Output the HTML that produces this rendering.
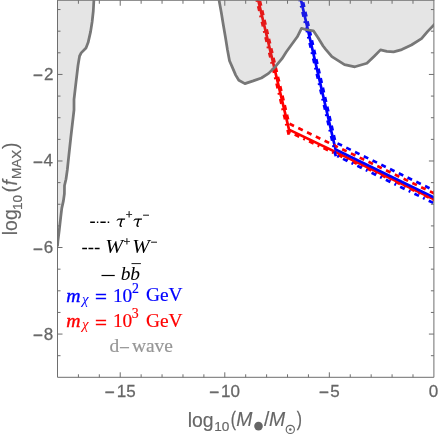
<!DOCTYPE html>
<html><head><meta charset="utf-8"><title>plot</title>
<style>
html,body{margin:0;padding:0;background:#fff;}
body{width:440px;height:437px;overflow:hidden;font-family:"Liberation Sans",sans-serif;}
svg{display:block;will-change:transform;}
text.s{font-family:"Liberation Sans",sans-serif;}
text.f{font-family:"Liberation Serif",serif;}
text.i{font-style:italic;}
</style></head><body>
<svg width="440" height="437" viewBox="0 0 440 437">
<defs><clipPath id="clip"><rect x="57.50" y="0.25" width="376.40" height="377.05"/></clipPath></defs>
<rect width="440" height="437" fill="#fff"/>
<g clip-path="url(#clip)">
<path d="M256.30,-8.00 L289.00,129.60 L437.90,201.22" fill="none" stroke="#ff0000" stroke-width="2.70" stroke-linejoin="miter"/>
<path d="M299.15,-8.00 L335.50,149.40 L437.90,199.35" fill="none" stroke="#0000ff" stroke-width="2.70" stroke-linejoin="miter"/>
<path d="M335.48,142.39 L437.90,192.35" fill="none" stroke="#0000ff" stroke-width="2.70" stroke-dasharray="5.00 4.74" stroke-dashoffset="-2.25"/>
<path d="M335.48,142.39 L300.75,-8.00" fill="none" stroke="#0000ff" stroke-width="2.70" stroke-dasharray="5.00 4.74" stroke-dashoffset="-2.49"/>
<path d="M289.08,123.64 L437.90,195.22" fill="none" stroke="#ff0000" stroke-width="2.70" stroke-dasharray="5.00 4.74" stroke-dashoffset="-0.46"/>
<path d="M289.08,123.64 L257.80,-8.00" fill="none" stroke="#ff0000" stroke-width="2.70" stroke-dasharray="5.00 4.74" stroke-dashoffset="-4.28"/>
<path d="M287.93,131.40 L437.90,201.78" fill="none" stroke="#ff0000" stroke-width="2.70" stroke-dasharray="5.00 4.50 1.90 4.50" stroke-dashoffset="-7.48"/>
<path d="M288.73,134.80 L254.80,-8.00" fill="none" stroke="#ff0000" stroke-width="2.70" stroke-dasharray="5.00 4.50 1.90 4.50" stroke-dashoffset="0.00"/>
<path d="M335.54,155.22 L437.90,205.15" fill="none" stroke="#0000ff" stroke-width="2.70" stroke-dasharray="5.00 4.50 1.90 4.50" stroke-dashoffset="-8.30"/>
<path d="M335.78,156.22 L297.85,-8.00" fill="none" stroke="#0000ff" stroke-width="2.70" stroke-dasharray="5.00 4.50 1.90 4.50" stroke-dashoffset="0.00"/>
<path d="M93.9,-3.0 L93.9,0.0 L93.3,11.0 L92.1,22.0 L90.6,31.6 L88.1,42.6 L86.0,48.0 L81.2,52.9 L79.6,56.0 L78.9,60.0 L78.0,65.5 L75.6,85.6 L74.0,99.5 L74.0,110.0 L70.8,137.5 L68.2,161.5 L67.3,170.0 L66.0,179.3 L64.5,185.5 L64.4,193.7 L63.4,200.9 L61.8,208.1 L60.7,217.4 L59.3,229.8 L57.9,241.1 L57.5,246.5 L57.5,246.5 L57.5,-3 Z" fill="rgba(127,127,127,0.2)" stroke="none"/>
<path d="M93.9,-3.0 L93.9,0.0 L93.3,11.0 L92.1,22.0 L90.6,31.6 L88.1,42.6 L86.0,48.0 L81.2,52.9 L79.6,56.0 L78.9,60.0 L78.0,65.5 L75.6,85.6 L74.0,99.5 L74.0,110.0 L70.8,137.5 L68.2,161.5 L67.3,170.0 L66.0,179.3 L64.5,185.5 L64.4,193.7 L63.4,200.9 L61.8,208.1 L60.7,217.4 L59.3,229.8 L57.9,241.1 L57.5,246.5" fill="none" stroke="#777777" stroke-width="2.75" stroke-linejoin="round"/>
<path d="M219.0,-3.0 L219.2,1.0 L221.3,12.4 L223.3,24.7 L225.4,37.1 L227.4,49.4 L229.5,60.7 L232.6,67.9 L235.7,75.1 L238.8,80.3 L244.9,83.6 L253.2,80.9 L261.4,78.0 L268.6,73.4 L275.8,66.2 L282.0,58.7 L286.4,51.8 L297.3,36.8 L301.5,28.3 L305.5,29.5 L313.4,30.8 L318.2,38.0 L323.1,46.0 L325.5,49.1 L331.9,56.7 L344.5,64.6 L354.9,66.8 L366.9,63.3 L374.5,55.9 L380.5,49.9 L386.8,51.3 L393.6,51.8 L401.8,49.6 L411.4,45.0 L421.5,38.7 L427.7,31.4 L433.7,25.1 L437.0,21.5 L437,-3 Z" fill="rgba(127,127,127,0.2)" stroke="none"/>
<path d="M219.0,-3.0 L219.2,1.0 L221.3,12.4 L223.3,24.7 L225.4,37.1 L227.4,49.4 L229.5,60.7 L232.6,67.9 L235.7,75.1 L238.8,80.3 L244.9,83.6 L253.2,80.9 L261.4,78.0 L268.6,73.4 L275.8,66.2 L282.0,58.7 L286.4,51.8 L297.3,36.8 L301.5,28.3 L305.5,29.5 L313.4,30.8 L318.2,38.0 L323.1,46.0 L325.5,49.1 L331.9,56.7 L344.5,64.6 L354.9,66.8 L366.9,63.3 L374.5,55.9 L380.5,49.9 L386.8,51.3 L393.6,51.8 L401.8,49.6 L411.4,45.0 L421.5,38.7 L427.7,31.4 L433.7,25.1 L437.0,21.5" fill="none" stroke="#777777" stroke-width="2.75" stroke-linejoin="round"/>
</g>
<path d="M57.50,0.25 V377.30 H433.90 V0.25" fill="none" stroke="#6e6e6e" stroke-width="1"/>
<path d="M57.00,0.25 H434.40" fill="none" stroke="#6e6e6e" stroke-width="1"/>
<path d="M78.41,377.30 v-3.00 M78.41,0.25 v3.50 M99.32,377.30 v-3.00 M99.32,0.25 v3.50 M120.23,377.30 v-5.00 M120.23,0.25 v5.50 M141.14,377.30 v-3.00 M141.14,0.25 v3.50 M162.06,377.30 v-3.00 M162.06,0.25 v3.50 M182.97,377.30 v-3.00 M182.97,0.25 v3.50 M203.88,377.30 v-3.00 M203.88,0.25 v3.50 M224.79,377.30 v-5.00 M224.79,0.25 v5.50 M245.70,377.30 v-3.00 M245.70,0.25 v3.50 M266.61,377.30 v-3.00 M266.61,0.25 v3.50 M287.52,377.30 v-3.00 M287.52,0.25 v3.50 M308.43,377.30 v-3.00 M308.43,0.25 v3.50 M329.34,377.30 v-5.00 M329.34,0.25 v5.50 M350.26,377.30 v-3.00 M350.26,0.25 v3.50 M371.17,377.30 v-3.00 M371.17,0.25 v3.50 M392.08,377.30 v-3.00 M392.08,0.25 v3.50 M412.99,377.30 v-3.00 M412.99,0.25 v3.50 M57.50,355.70 h3.00 M433.90,355.70 h-3.00 M57.50,334.07 h5.00 M433.90,334.07 h-5.00 M57.50,312.44 h3.00 M433.90,312.44 h-3.00 M57.50,290.80 h3.00 M433.90,290.80 h-3.00 M57.50,269.17 h3.00 M433.90,269.17 h-3.00 M57.50,247.53 h5.00 M433.90,247.53 h-5.00 M57.50,225.90 h3.00 M433.90,225.90 h-3.00 M57.50,204.26 h3.00 M433.90,204.26 h-3.00 M57.50,182.62 h3.00 M433.90,182.62 h-3.00 M57.50,160.99 h5.00 M433.90,160.99 h-5.00 M57.50,139.36 h3.00 M433.90,139.36 h-3.00 M57.50,117.72 h3.00 M433.90,117.72 h-3.00 M57.50,96.09 h3.00 M433.90,96.09 h-3.00 M57.50,74.45 h5.00 M433.90,74.45 h-5.00 M57.50,52.81 h3.00 M433.90,52.81 h-3.00 M57.50,31.18 h3.00 M433.90,31.18 h-3.00 M57.50,9.55 h3.00 M433.90,9.55 h-3.00" fill="none" stroke="#6e6e6e" stroke-width="1"/>
<text class="s" transform="translate(104.80,397.93)" font-size="17" fill="#666666" stroke="#666666" stroke-width="0.50">−</text>
<text class="s" transform="translate(116.70,396.80)" font-size="17" fill="#666666" stroke="#666666" stroke-width="0.26">15</text>
<text class="s" transform="translate(209.30,397.93)" font-size="17" fill="#666666" stroke="#666666" stroke-width="0.50">−</text>
<text class="s" transform="translate(220.95,396.92)" font-size="17" fill="#666666" stroke="#666666" stroke-width="0.26">10</text>
<text class="s" transform="translate(319.10,397.93)" font-size="17" fill="#666666" stroke="#666666" stroke-width="0.50">−</text>
<text class="s" transform="translate(330.15,396.80)" font-size="17" fill="#666666" stroke="#666666" stroke-width="0.26">5</text>
<text class="s" transform="translate(428.71,396.92)" font-size="17" fill="#666666" stroke="#666666" stroke-width="0.26">0</text>
<text class="s" transform="translate(33.00,81.12)" font-size="17" fill="#666666" stroke="#666666" stroke-width="0.50">−</text>
<text class="s" transform="translate(43.95,79.84)" font-size="17" fill="#666666" stroke="#666666" stroke-width="0.26">2</text>
<text class="s" transform="translate(33.00,167.72)" font-size="17" fill="#666666" stroke="#666666" stroke-width="0.50">−</text>
<text class="s" transform="translate(43.61,166.21)" font-size="17" fill="#666666" stroke="#666666" stroke-width="0.26">4</text>
<text class="s" transform="translate(33.00,254.53)" font-size="17" fill="#666666" stroke="#666666" stroke-width="0.50">−</text>
<text class="s" transform="translate(43.79,253.18)" font-size="17" fill="#666666" stroke="#666666" stroke-width="0.26">6</text>
<text class="s" transform="translate(33.00,341.02)" font-size="17" fill="#666666" stroke="#666666" stroke-width="0.50">−</text>
<text class="s" transform="translate(43.75,339.73)" font-size="17" fill="#666666" stroke="#666666" stroke-width="0.26">8</text>
<text class="s" transform="translate(187.76,426.85)" font-size="19.4" fill="#666666" stroke="#666666" stroke-width="0.15">log</text>
<text class="s" transform="translate(214.29,430.84)" font-size="13.6" fill="#666666" stroke="#666666" stroke-width="0.20">10</text>
<text class="s" transform="translate(230.80,426.40) scale(0.800,1.000)" font-size="19.4" fill="#666666" stroke="#666666" stroke-width="0.25">(</text>
<text class="s i" transform="translate(236.18,426.14)" font-size="19.4" fill="#666666" stroke="#666666" stroke-width="0.15">M</text>
<text class="s" transform="translate(264.11,426.34)" font-size="19.4" fill="#666666" stroke="#666666" stroke-width="0.15">/</text>
<text class="s i" transform="translate(268.88,426.14)" font-size="19.4" fill="#666666" stroke="#666666" stroke-width="0.15">M</text>
<text class="s" transform="translate(296.70,426.40) scale(0.800,1.000)" font-size="19.4" fill="#666666" stroke="#666666" stroke-width="0.25">)</text>
<text class="s" transform="translate(17.05,235.19) rotate(-90)" font-size="19.4" fill="#666666" stroke="#666666" stroke-width="0.15">log</text>
<text class="s" transform="translate(22.09,210.11) rotate(-90)" font-size="13.6" fill="#666666" stroke="#666666" stroke-width="0.20">10</text>
<text class="s" transform="translate(16.95,192.50) rotate(-90)" font-size="19.4" fill="#666666" stroke="#666666" stroke-width="0.15">(</text>
<text class="s i" transform="translate(17.00,185.56) rotate(-90)" font-size="19.4" fill="#666666" stroke="#666666" stroke-width="0.15">f</text>
<text class="s" transform="translate(20.59,179.12) rotate(-90)" font-size="13.6" fill="#666666" stroke="#666666" stroke-width="0.20">MAX</text>
<text class="s" transform="translate(16.90,149.10) rotate(-90)" font-size="19.4" fill="#666666" stroke="#666666" stroke-width="0.15">)</text>
<text class="f" transform="translate(125.72,219.20)" font-size="12.0" fill="#000000" stroke="#000000" stroke-width="0.28">+</text>
<text class="f" transform="translate(142.72,219.30)" font-size="12.0" fill="#000000" stroke="#000000" stroke-width="0.28">−</text>
<text class="f i" transform="translate(105.23,252.54) scale(1.099,1.000)" font-size="19.4" fill="#000000" stroke="#000000" stroke-width="0.01">W</text>
<text class="f" transform="translate(123.47,246.35)" font-size="12.0" fill="#000000" stroke="#000000" stroke-width="0.25">+</text>
<text class="f i" transform="translate(132.26,252.54) scale(1.075,1.000)" font-size="19.4" fill="#000000" stroke="#000000" stroke-width="0.01">W</text>
<text class="f" transform="translate(150.68,246.30)" font-size="12.0" fill="#000000" stroke="#000000" stroke-width="0.28">−</text>
<text class="f i" transform="translate(120.71,279.59)" font-size="19.4" fill="#000000" stroke="#000000" stroke-width="0.01">b</text>
<text class="f i" transform="translate(130.16,279.59)" font-size="19.4" fill="#000000" stroke="#000000" stroke-width="0.01">b</text>
<text class="f i" transform="translate(66.24,301.51) scale(1.018,1.000)" font-size="19.4" fill="#0000ff" stroke="#0000ff" stroke-width="0.40">m</text>
<text class="f i" transform="translate(81.92,303.97) scale(1.080,0.984)" font-size="13.8" fill="#0000ff" stroke="#0000ff" stroke-width="0.01">χ</text>
<text class="f" transform="translate(94.91,303.46) scale(1.089,0.964)" font-size="19.4" fill="#0000ff" stroke="#0000ff" stroke-width="0.40">=</text>
<text class="f" transform="translate(112.91,301.57)" font-size="19.4" fill="#0000ff" stroke="#0000ff" stroke-width="0.18">10</text>
<text class="f" transform="translate(131.88,292.91)" font-size="13.8" fill="#0000ff" stroke="#0000ff" stroke-width="0.18">2</text>
<text class="f" transform="translate(145.94,301.41)" font-size="19.4" fill="#0000ff" stroke="#0000ff" stroke-width="0.18">GeV</text>
<text class="f i" transform="translate(66.24,326.81) scale(1.018,1.000)" font-size="19.4" fill="#ff0000" stroke="#ff0000" stroke-width="0.40">m</text>
<text class="f i" transform="translate(81.92,329.27) scale(1.080,0.984)" font-size="13.8" fill="#ff0000" stroke="#ff0000" stroke-width="0.01">χ</text>
<text class="f" transform="translate(94.91,328.76) scale(1.089,0.964)" font-size="19.4" fill="#ff0000" stroke="#ff0000" stroke-width="0.40">=</text>
<text class="f" transform="translate(112.91,326.88)" font-size="19.4" fill="#ff0000" stroke="#ff0000" stroke-width="0.18">10</text>
<text class="f" transform="translate(131.75,318.15)" font-size="13.8" fill="#ff0000" stroke="#ff0000" stroke-width="0.18">3</text>
<text class="f" transform="translate(145.94,326.71)" font-size="19.4" fill="#ff0000" stroke="#ff0000" stroke-width="0.18">GeV</text>
<text class="f" transform="translate(109.53,351.84)" font-size="19.4" fill="#969696" stroke="#969696" stroke-width="0.18">d</text>
<text class="f" transform="translate(118.95,354.34)" font-size="19.4" fill="#969696" stroke="#969696" stroke-width="0.18">−</text>
<text class="f" transform="translate(131.93,352.10)" font-size="19.4" fill="#969696" stroke="#969696" stroke-width="0.18">wave</text>
<circle cx="258.5" cy="426.1" r="4.3" fill="#666666"/>
<circle cx="290.3" cy="429.4" r="4.1" fill="none" stroke="#666666" stroke-width="1.15"/>
<circle cx="290.3" cy="429.4" r="1.25" fill="#666666"/>
<g transform="translate(116.50,218.20)" fill="#000"><path d="M0,2.5 L0.9,0.95 Q1.5,0.3 2.4,0.3 L8.7,0.3 L8.45,1.5 L2.5,1.5 Q1.5,1.5 0.45,2.7 Z"/><path d="M5.3,1.2 L3.75,6.4 Q3.3,8.0 4.7,8.0" fill="none" stroke="#000" stroke-width="1.45" stroke-linecap="round" stroke-linejoin="round"/></g>
<g transform="translate(133.40,218.20)" fill="#000"><path d="M0,2.5 L0.9,0.95 Q1.5,0.3 2.4,0.3 L8.7,0.3 L8.45,1.5 L2.5,1.5 Q1.5,1.5 0.45,2.7 Z"/><path d="M5.3,1.2 L3.75,6.4 Q3.3,8.0 4.7,8.0" fill="none" stroke="#000" stroke-width="1.45" stroke-linecap="round" stroke-linejoin="round"/></g>
<g stroke="#000" stroke-width="1.4" fill="none">
<path d="M90.2,222.3 H94.9 M96.9,222.3 H98.3 M100.4,222.3 H105.7 M107.7,222.3 H109.2"/>
<path d="M82.2,248.5 H87 M88.5,248.5 H93.3 M94.8,248.5 H99.6"/>
<path d="M101.5,275.5 H114.75" stroke-width="1.2"/>
<path d="M131.5,263.6 H140.9" stroke-width="0.9"/>
</g>
</svg>
</body></html>
